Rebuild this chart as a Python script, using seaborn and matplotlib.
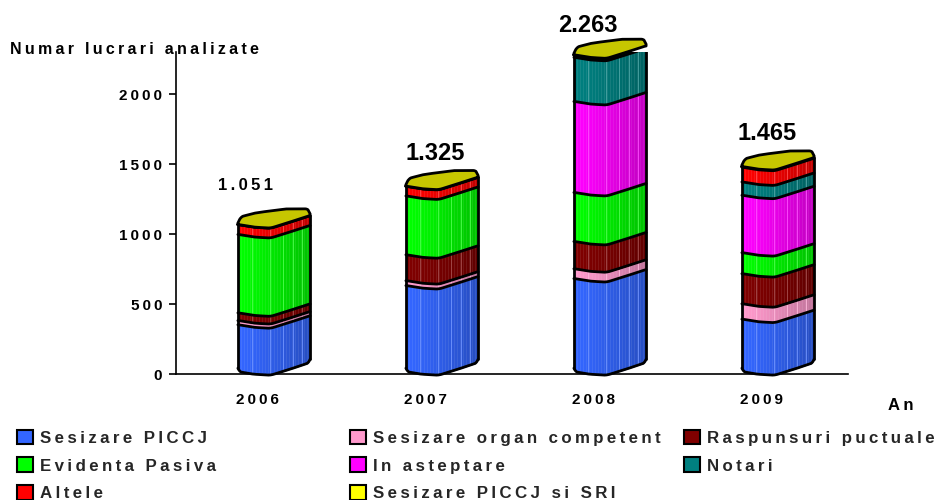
import numpy as np
import pandas as pd
import matplotlib
matplotlib.use("Agg")
import matplotlib.pyplot as plt
from matplotlib.colors import to_rgb
from matplotlib.patches import Patch
from matplotlib.transforms import ScaledTranslation
import seaborn as sns

years = ["2006", "2007", "2008", "2009"]
totals_text = ["1.051", "1.325", "2.263", "1.465"]
series_names = ["Sesizare PICCJ", "Sesizare organ competent", "Raspunsuri puctuale",
                "Evidenta Pasiva", "In asteptare", "Notari", "Altele", "Sesizare PICCJ si SRI"]
sesizare_piccj = [335, 615, 665, 375]
sesizare_organ = [30, 35, 70, 110]
raspunsuri = [55, 185, 195, 215]
evidenta = [560, 420, 350, 150]
in_asteptare = [0, 0, 650, 410]
notari = [0, 0, 315, 95]
altele = [70, 68, 15, 105]
piccj_sri = [1, 2, 3, 5]
palette = ["#3366FF", "#FF99CC", "#800000", "#00FF00", "#FF00FF", "#008080", "#FF0000", "#FFFF00"]

FONT = "Liberation Sans"
WIDE = "\u2009"


def tracked(label):
    # Widely tracked lettering used across the chart
    return WIDE.join(label)


sns.set_theme(style="white", rc={"font.family": [FONT, "DejaVu Sans"]})
plt.rcParams["font.family"] = [FONT, "DejaVu Sans"]

fig = plt.figure(figsize=(9.4, 5), dpi=100)
ax = fig.add_axes([176 / 940, 1 - 374 / 500, 672 / 940, 322 / 500])

values = np.array([sesizare_piccj, sesizare_organ, raspunsuri, evidenta,
                   in_asteptare, notari, altele, piccj_sri], dtype=float)
tops = values.cumsum(axis=0)
long = pd.DataFrame({
    "year": np.tile(years, len(series_names)),
    "series": np.repeat(series_names, len(years)),
    "top": tops.ravel(),
})
sns.barplot(data=long, x="year", y="top", hue="series", hue_order=series_names,
            palette=palette, dodge=False, width=0.43, legend=False, ax=ax, saturation=1)
ax.set_xlim(-0.5, 3.5)
ax.set_ylim(0, 2300)
px = 2300 / 322  # data units per pixel


def smooth(curve, n=25):
    # Moving average that leaves the end points where they are
    pad = n // 2
    padded = np.r_[np.full(pad, curve[0]), curve, np.full(pad, curve[-1])]
    return np.convolve(padded, np.ones(n) / n, "valid")


strips = 24
u = np.linspace(0, 1, strips * 10 + 1)
# Wavy front rim and back rim of each drum section, in pixels
lift = 2.5
front = lift + smooth(np.interp(u, [0, 0.2, 0.45, 0.7, 1], [0, -2.6, -3.8, 1.8, 9.0]))
back = lift + smooth(np.interp(u, [0, 0.015, 0.06, 0.25, 0.45, 0.68, 0.95, 0.985, 1],
                               [0, 4.5, 8, 11.5, 13.5, 15.5, 15.5, 14, 9.0]), 9)
corner = 3.5 * (np.clip(1 - u / 0.05, 0, 1) ** 2 + np.clip(1 - (1 - u) / 0.05, 0, 1) ** 2)
seams = [0.19, 0.44, 0.62, 0.76, 0.89]
shift = 14 / 168

for col in range(len(years)):
    base = 0.0
    for s, container in enumerate(ax.containers):
        bar = container.patches[col]
        bar.set_visible(False)
        xs = bar.get_x() + shift + u * bar.get_width()
        top = bar.get_height()
        colour = np.array(to_rgb(palette[s]))
        if top - base <= 0:
            continue
        lower = base + (front + (corner if s == 0 else 0)) * px
        upper = top + front * px
        for i in range(strips):
            idx = np.arange(i * 10, i * 10 + 11)
            shade = 1.0 - 0.24 * (i / (strips - 1)) ** 1.2
            ax.fill_between(xs[idx], lower[idx], upper[idx], color=colour * shade,
                            lw=0.3, zorder=3 + s * 0.01)
        for seam in seams:
            k = int(round(seam * (len(u) - 1)))
            light = colour + (1 - colour) * 0.3
            ax.plot([xs[k]] * 2, [lower[k], upper[k]], color=light, lw=0.6, zorder=3.5)
        ax.plot(xs, upper, color="black", lw=2, zorder=4, solid_capstyle="round")
        base = top
    bottom = (front + corner) * px
    ax.plot(xs, bottom, color="black", lw=2, zorder=4, clip_on=False)
    ax.plot([xs[0], xs[0]], [bottom[0], base + front[0] * px], color="black", lw=2, zorder=4)
    ax.plot([xs[-1], xs[-1]], [bottom[-1], base + front[-1] * px], color="black", lw=2, zorder=4)
    # Lid of the drum
    ax.fill_between(xs, base + front * px, base + back * px,
                    color="#C6C600", lw=0, zorder=5, clip_on=False)
    ax.plot(np.r_[xs, xs[::-1], xs[0]],
            np.r_[base + front * px, (base + back * px)[::-1], base + front[0] * px],
            color="black", lw=2, zorder=6, clip_on=False, solid_joinstyle="round")

# Totals above the columns
label_specs = [(245, 186, 12, True), (435, 153, 17, False),
               (588, 26, 17, False), (767, 134, 17, False)]
for text, (xp, yp, size, wide) in zip(totals_text, label_specs):
    fig.text(xp / 940, 1 - yp / 500, tracked(text) if wide else text, ha="center", va="center",
             fontweight="bold", fontsize=size, color="black")

# Axes styling
sns.despine(ax=ax)
for side in ("left", "bottom"):
    ax.spines[side].set_linewidth(1.2)
    ax.spines[side].set_color("black")
ax.set_xlabel("")
ax.set_ylabel("")
ax.set_yticks([0, 500, 1000, 1500, 2000])
ax.set_yticklabels([tracked(t) for t in ["0", "500", "1000", "1500", "2000"]],
                   fontweight="bold", fontsize=11, color="black")
ax.set_xticks(range(4))
ax.set_xticklabels([tracked(y) for y in years], fontweight="bold", fontsize=11, color="black")
ax.set_xticks(np.arange(-0.5, 4), minor=True)
ax.tick_params(axis="x", which="major", length=0, pad=14)
ax.tick_params(axis="x", which="minor", length=5, width=1.2, color="black")
ax.tick_params(axis="y", which="major", length=5, width=1.2, color="black", left=True, pad=5)
nudge = ScaledTranslation(-3 / 100, 0, fig.dpi_scale_trans)
for tick_label in ax.get_xticklabels():
    tick_label.set_transform(tick_label.get_transform() + nudge)

fig.text(10 / 940, 1 - 50 / 500, tracked("Numar lucrari analizate"), ha="left", va="center",
         fontweight="bold", fontsize=11.5, color="black")
fig.text(901 / 940, 1 - 406 / 500, tracked("An"), ha="center", va="center",
         fontweight="bold", fontsize=12, color="black")

# Legend laid out in three independent columns
columns = [([0, 3, 6], 17), ([1, 4, 7], 350), ([2, 5], 684)]
for members, xp in columns:
    handles = [Patch(facecolor=palette[i], edgecolor="black", linewidth=1.5) for i in members]
    labels = [tracked(series_names[i]) for i in members]
    fig.legend(handles, labels, loc="upper left", bbox_to_anchor=(xp / 940, 1 - 429.5 / 500),
               frameon=False, handlelength=0.94, handleheight=0.94, handletextpad=0.42,
               labelspacing=0.70, borderpad=0, borderaxespad=0,
               prop={"family": FONT, "weight": "bold", "size": 12.2})

fig.savefig("out.png", dpi=100)
